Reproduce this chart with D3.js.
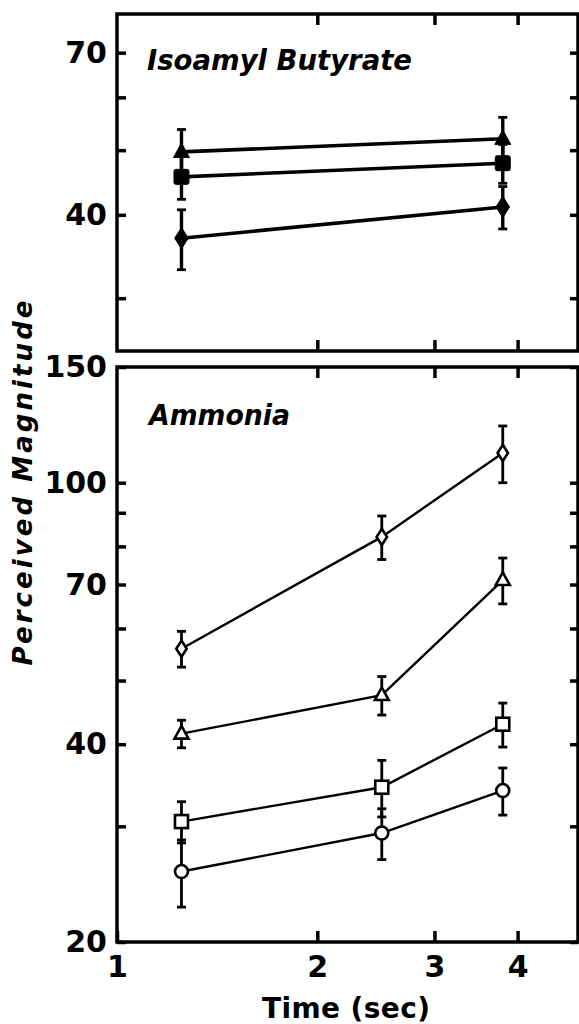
<!DOCTYPE html>
<html>
<head>
<meta charset="utf-8">
<script src="https://cdn.jsdelivr.net/npm/d3@7"></script>
<style>
  body { margin: 0; background: #fff; }
  svg { display: block; }
  .tick text { font-family: "DejaVu Sans", sans-serif; font-weight: bold; font-size: 30px; fill: #000; }
</style>
</head>
<body>
<svg width="579" height="1024"></svg>
<script>
const width = 579, height = 1024;

// data
const times = [1.25, 2.5, 3.8];
const ibTimes = [1.25, 3.8];

const ibTriangle = [49.7, 52.0];
const ibTriangleErr = [4.0, 4.0];
const ibSquare = [45.6, 47.8];
const ibSquareErr = [3.4, 3.2];
const ibDiamond = [36.9, 41.1];
const ibDiamondErr = [3.8, 3.0];

const amDiamond = [55.9, 82.7, 111];
const amDiamondErr = [3.5, 6.3, 11];
const amTriangle = [41.5, 47.5, 71.1];
const amTriangleErr = [2.0, 3.2, 5.7];
const amSquare = [30.5, 34.4, 42.9];
const amSquareErr = [2.2, 3.4, 3.3];
const amCircle = [25.6, 29.3, 34.0];
const amCircleErr = [3.0, 2.6, 2.8];

const xTicks = [1, 2, 3, 4];
const topYTicks = [30, 40, 50, 60, 70];
const topYLabels = [40, 70];
const botYTicks = [20, 30, 40, 50, 60, 70, 80, 90, 100, 150];
const botYLabels = [20, 40, 70, 100, 150];

const svg = d3.select("svg");

const xLeft = 117, xRight = 578;
const x = d3.scaleLog().domain([1, 4.93]).range([xLeft, xRight]);
const yTop = d3.scaleLog().domain([25, 80]).range([351, 14]);
const yBot = d3.scaleLog().domain([20, 150]).range([942, 367]);

function panel(y, yTicks, yLabels, showX) {
    const [y0, y1] = y.range(); // bottom, top
    const g = svg.append("g");

    // left
    g.append("g").attr("transform", `translate(${xLeft},0)`)
        .call(d3.axisLeft(y).tickValues(yTicks).tickSize(-9).tickPadding(10)
            .tickFormat(d => yLabels.includes(d) ? d : ""));
    // right
    g.append("g").attr("transform", `translate(${xRight},0)`)
        .call(d3.axisRight(y).tickValues(yTicks).tickSize(-8).tickFormat(""));
    // top
    g.append("g").attr("transform", `translate(0,${y1})`)
        .call(d3.axisTop(x).tickValues(xTicks.slice(1)).tickSize(-11).tickFormat(""));
    // bottom
    g.append("g").attr("transform", `translate(0,${y0})`)
        .call(d3.axisBottom(x).tickValues(showX ? xTicks : xTicks.slice(1)).tickSize(-11).tickPadding(14)
            .tickFormat(showX ? d3.format("d") : ""));

    g.selectAll(".domain").remove();
    g.selectAll(".tick line").attr("stroke", "#000").attr("stroke-width", 3.5);

    g.append("rect")
        .attr("x", xLeft).attr("y", y1)
        .attr("width", xRight - xLeft).attr("height", y0 - y1)
        .attr("fill", "none").attr("stroke", "#000").attr("stroke-width", 3.5);
    return g;
}

panel(yTop, topYTicks, topYLabels, false);
panel(yBot, botYTicks, botYLabels, true);

function marker(g, shape, cx, cy, filled, s) {
    const fill = filled ? "#000" : "#fff";
    const sw = filled ? 1 : 2.6;
    if (shape === "circle") {
        g.append("circle").attr("cx", cx).attr("cy", cy).attr("r", s)
            .attr("fill", fill).attr("stroke", "#000").attr("stroke-width", sw);
    } else if (shape === "square") {
        g.append("rect").attr("x", cx - s).attr("y", cy - s).attr("width", 2 * s).attr("height", 2 * s)
            .attr("rx", filled ? 2 : 0)
            .attr("fill", fill).attr("stroke", "#000").attr("stroke-width", sw);
    } else if (shape === "triangle") {
        g.append("path").attr("d", `M${cx},${cy - s * 1.1}L${cx + s},${cy + s * 0.7}L${cx - s},${cy + s * 0.7}Z`)
            .attr("fill", fill).attr("stroke", "#000").attr("stroke-width", sw);
    } else {
        g.append("path").attr("d", `M${cx},${cy - s * 1.25}L${cx + s * 0.8},${cy}L${cx},${cy + s * 1.25}L${cx - s * 0.8},${cy}Z`)
            .attr("fill", fill).attr("stroke", "#000").attr("stroke-width", sw);
    }
}

function series(y, ts, vals, errs, shape, filled, lineW, size, barW) {
    const g = svg.append("g");
    const pts = ts.map((t, i) => ({ t, v: vals[i], e: errs[i] }));

    // error bars
    pts.forEach(p => {
        const cx = x(p.t);
        g.append("line").attr("x1", cx).attr("x2", cx)
            .attr("y1", y(p.v + p.e)).attr("y2", y(p.v - p.e))
            .attr("stroke", "#000").attr("stroke-width", barW);
        [p.v + p.e, p.v - p.e].forEach(v => {
            g.append("line").attr("x1", cx - 4.5).attr("x2", cx + 4.5)
                .attr("y1", y(v)).attr("y2", y(v))
                .attr("stroke", "#000").attr("stroke-width", 2.8);
        });
    });

    g.append("path")
        .datum(pts)
        .attr("fill", "none")
        .attr("stroke", "#000")
        .attr("stroke-width", lineW)
        .attr("d", d3.line().x(d => x(d.t)).y(d => y(d.v)));

    pts.forEach(p => marker(g, shape, x(p.t), y(p.v), filled, size));
}

series(yTop, ibTimes, ibTriangle, ibTriangleErr, "triangle", true, 3.6, 8, 3.4);
series(yTop, ibTimes, ibSquare, ibSquareErr, "square", true, 3.6, 7.5, 3.4);
series(yTop, ibTimes, ibDiamond, ibDiamondErr, "diamond", true, 3.6, 8.5, 3.4);

series(yBot, times, amDiamond, amDiamondErr, "diamond", false, 2.4, 6.5, 2.8);
series(yBot, times, amTriangle, amTriangleErr, "triangle", false, 2.4, 7, 2.8);
series(yBot, times, amSquare, amSquareErr, "square", false, 2.4, 6.5, 2.8);
series(yBot, times, amCircle, amCircleErr, "circle", false, 2.4, 6.5, 2.8);

// titles and axis labels
const titleStyle = t => t
    .attr("font-family", "DejaVu Sans, sans-serif")
    .attr("font-weight", "bold")
    .attr("font-style", "italic")
    .attr("fill", "#000");

svg.append("text").attr("x", 147).attr("y", 70)
    .attr("font-size", 28).attr("textLength", 265).attr("lengthAdjust", "spacingAndGlyphs")
    .call(titleStyle).text("Isoamyl Butyrate");

svg.append("text").attr("x", 149).attr("y", 425)
    .attr("font-size", 28).attr("textLength", 141).attr("lengthAdjust", "spacingAndGlyphs")
    .call(titleStyle).text("Ammonia");

svg.append("text")
    .attr("transform", "translate(32,483) rotate(-90)")
    .attr("text-anchor", "middle")
    .attr("font-size", 26).attr("textLength", 365).attr("lengthAdjust", "spacing")
    .call(titleStyle).text("Perceived Magnitude");

svg.append("text")
    .attr("x", 346).attr("y", 1018)
    .attr("text-anchor", "middle")
    .attr("font-family", "DejaVu Sans, sans-serif")
    .attr("font-weight", "bold")
    .attr("font-size", 28).attr("textLength", 168).attr("lengthAdjust", "spacing")
    .text("Time (sec)");
</script>
</body>
</html>
